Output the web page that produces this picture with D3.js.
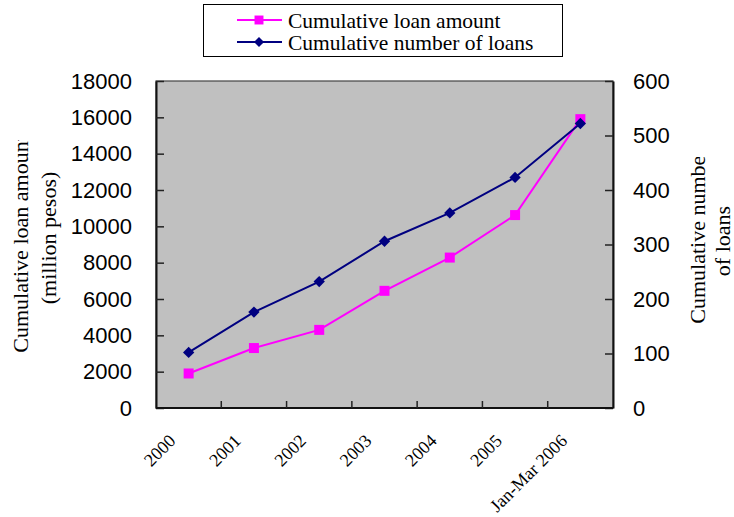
<!DOCTYPE html>
<html>
<head>
<meta charset="utf-8">
<script src="https://cdn.jsdelivr.net/npm/d3@7"></script>
<style>
  html, body { margin: 0; padding: 0; background: #fff; }
  svg { display: block; }
</style>
</head>
<body>
<svg id="chart" width="734" height="517"></svg>
<script>
// Categories and series
const categories = ["2000", "2001", "2002", "2003", "2004", "2005", "Jan-Mar 2006"];
const loanAmount = [1900, 3300, 4300, 6450, 8280, 10620, 15900];   // million pesos
const loanCount  = [102, 176, 232, 306, 358, 423, 522];            // number of loans
const leftTicks  = [0, 2000, 4000, 6000, 8000, 10000, 12000, 14000, 16000, 18000];
const rightTicks = [0, 100, 200, 300, 400, 500, 600];

const svg = d3.select("#chart");
const plot = { left: 156, right: 613, top: 81, bottom: 408 };

const x  = d3.scaleBand().domain(categories).range([plot.left, plot.right]).padding(0);
const yL = d3.scaleLinear().domain([0, 18000]).range([plot.bottom, plot.top]);
const yR = d3.scaleLinear().domain([0, 600]).range([plot.bottom, plot.top]);
const cx = d => x(d) + x.bandwidth() / 2;

const SANS = "'Liberation Sans', Arial, sans-serif";
const SERIF = "'Liberation Serif', 'Times New Roman', serif";

// Square-proportioned diamond marker
const diamond = {
  draw(ctx, size) {
    const r = Math.sqrt(size / 2);
    ctx.moveTo(0, -r); ctx.lineTo(r, 0); ctx.lineTo(0, r); ctx.lineTo(-r, 0); ctx.closePath();
  }
};

// Plot area background
svg.append("rect")
  .attr("x", plot.left).attr("y", plot.top)
  .attr("width", plot.right - plot.left).attr("height", plot.bottom - plot.top)
  .attr("fill", "#c0c0c0").attr("stroke", "#444").attr("stroke-width", 1.2);

// Left axis
const gL = svg.append("g").attr("transform", `translate(${plot.left},0)`)
  .call(d3.axisLeft(yL).tickValues(leftTicks).tickFormat(d3.format("d"))
    .tickSizeInner(-8).tickSizeOuter(0).tickPadding(24));
gL.select(".domain").attr("stroke", "#111").attr("stroke-width", 2);
gL.selectAll(".tick line").attr("stroke", "#222").attr("stroke-width", 1.5);
gL.selectAll(".tick text").attr("font-family", SANS).attr("font-size", 22).attr("fill", "#000");

// Right axis
const gR = svg.append("g").attr("transform", `translate(${plot.right},0)`)
  .call(d3.axisRight(yR).tickValues(rightTicks).tickFormat(d3.format("d"))
    .tickSizeInner(-8).tickSizeOuter(0).tickPadding(20));
gR.select(".domain").attr("stroke", "#111").attr("stroke-width", 2);
gR.selectAll(".tick line").attr("stroke", "#222").attr("stroke-width", 1.5);
gR.selectAll(".tick text").attr("font-family", SANS).attr("font-size", 22).attr("fill", "#000");

// Bottom axis: tick marks sit on category boundaries
svg.append("line")
  .attr("x1", plot.left).attr("x2", plot.right)
  .attr("y1", plot.bottom).attr("y2", plot.bottom)
  .attr("stroke", "#111").attr("stroke-width", 2);
svg.append("g").selectAll("line")
  .data(categories.slice(1))
  .join("line")
  .attr("x1", d => x(d)).attr("x2", d => x(d))
  .attr("y1", plot.bottom).attr("y2", plot.bottom - 7)
  .attr("stroke", "#222").attr("stroke-width", 1.5);

// Rotated category labels
svg.append("g").selectAll("text")
  .data(categories)
  .join("text")
  .attr("transform", d => `translate(${cx(d) - 12},${plot.bottom + 34}) rotate(-45)`)
  .attr("text-anchor", "end")
  .attr("font-family", SERIF).attr("font-size", 18).attr("fill", "#000")
  .text(d => d);

// Axis titles (two lines each, clipped at the top like a narrow text box)
const defs = svg.append("defs");
defs.append("clipPath").attr("id", "clipLeftTitle")
  .append("rect").attr("x", 0).attr("y", 140).attr("width", 70).attr("height", 250);
defs.append("clipPath").attr("id", "clipRightTitle")
  .append("rect").attr("x", 680).attr("y", 157).attr("width", 54).attr("height", 200);

function axisTitle(lines, xs, ys, clipId) {
  const g = svg.append("g").attr("clip-path", `url(#${clipId})`);
  lines.forEach((t, i) => {
    g.append("text")
      .attr("transform", `translate(${xs[i]},${ys[i]}) rotate(-90)`)
      .attr("text-anchor", "middle").attr("dy", "0.35em")
      .attr("font-family", SERIF).attr("font-size", 22).attr("fill", "#000")
      .text(t);
  });
}
axisTitle(["Cumulative loan amount", "(million pesos)"], [20, 48], [244, 238], "clipLeftTitle");
axisTitle(["Cumulative number", "of loans"], [697, 722], [236, 241], "clipRightTitle");

// Series
const series = [
  { name: "Cumulative loan amount", values: loanAmount, y: yL, color: "#ff00ff", marker: d3.symbolSquare, size: 100 },
  { name: "Cumulative number of loans", values: loanCount, y: yR, color: "#000080", marker: diamond, size: 64 }
];

series.forEach(s => {
  const pts = categories.map((c, i) => [cx(c), s.y(s.values[i])]);
  svg.append("path")
    .attr("d", d3.line()(pts))
    .attr("fill", "none").attr("stroke", s.color).attr("stroke-width", 2);
  svg.append("g").selectAll("path")
    .data(pts)
    .join("path")
    .attr("transform", p => `translate(${p[0]},${p[1]})`)
    .attr("d", d3.symbol().type(s.marker).size(s.size))
    .attr("fill", s.color);
});

// Legend
const legend = svg.append("g");
legend.append("rect")
  .attr("x", 203.5).attr("y", 4.5).attr("width", 359).attr("height", 52)
  .attr("fill", "#fff").attr("stroke", "#000").attr("stroke-width", 1);
series.forEach((s, i) => {
  const yy = 20 + i * 22;
  legend.append("line")
    .attr("x1", 237).attr("x2", 282).attr("y1", yy).attr("y2", yy)
    .attr("stroke", s.color).attr("stroke-width", 2);
  legend.append("path")
    .attr("transform", `translate(259,${yy})`)
    .attr("d", d3.symbol().type(s.marker).size(s.size * 0.8))
    .attr("fill", s.color);
  legend.append("text")
    .attr("x", 288).attr("y", yy).attr("dy", "0.35em")
    .attr("font-family", SERIF).attr("font-size", 21.5).attr("fill", "#000")
    .text(s.name);
});
</script>
</body>
</html>
